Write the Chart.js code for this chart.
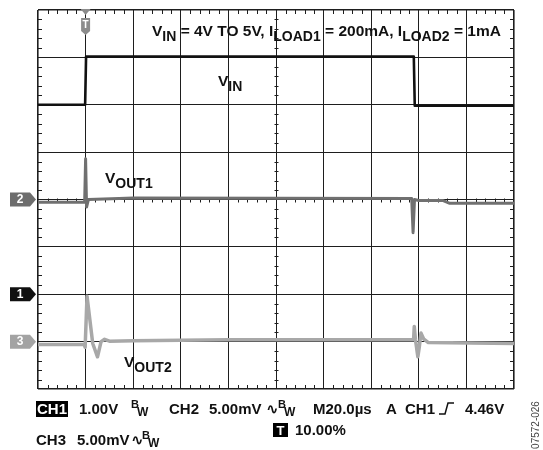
<!DOCTYPE html>
<html lang="en">
<head>
  <meta charset="UTF-8">
  <title>VIN step 4V to 5V — VOUT1 / VOUT2 transient</title>
  <script src="https://cdn.jsdelivr.net/npm/chart.js"></script>
  <style>
    html, body { margin: 0; padding: 0; background: #fff; }
    canvas { display: block; }
  </style>
</head>
<body>
<canvas id="scope" width="543" height="450"></canvas>

<script>
// time base: 20µs/div, trigger (t = 0) sits at 10% of the screen
const vinTime  = [-20, -0.2, 0.2, 60, 137.9, 138.3, 180];
const vinVolts = [4.0, 4.0, 5.02, 5.02, 5.02, 3.98, 3.98];

// CH2, AC coupled, mV deviation
const vout1Time = [-20, -0.4, 0, 0.4, 1.2, 14, 20, 137, 137.6, 138.2, 140, 150, 153, 180];
const vout1mV   = [-0.3, -0.3, 4.3, -0.8, 0.0, 0.1, 0.15, 0.1, -3.5, 0.0, -0.1, -0.1, -0.4, -0.4];

// CH3, AC coupled, mV deviation
const vout2Time = [-20, -0.6, -0.2, 0.6, 3, 5, 6.5, 8, 10, 20, 60, 137.8, 138.1, 138.6, 139.6, 140.2, 140.9, 142, 144, 180];
const vout2mV   = [-0.3, -0.3, -0.6, 4.8, -0.2, -1.6, 0, 0.25, 0.05, 0.1, 0.2, 0.2, 1.6, 0.2, -1.6, -0.6, 0.9, 0.3, -0.1, -0.2];

// channel settings: volts (or mV) per division and ground marker position in divisions
const ch1 = { perDiv: 1, offset: -2 };
const ch2 = { perDiv: 5, offset: 0 };
const ch3 = { perDiv: 5, offset: -3 };

const FONT = '"Liberation Sans", Arial, "DejaVu Sans", sans-serif';
const GRID = '#1e1e1e';

function toDiv(times, vals, ch) {
  return times.map((t, i) => ({ x: t, y: vals[i] / ch.perDiv + ch.offset }));
}

function rich(ctx, x, y, parts) {
  let cx = x;
  parts.forEach(p => {
    ctx.font = p.f;
    ctx.fillText(p.t, cx, y + (p.dy || 0));
    cx += ctx.measureText(p.t).width + (p.gap || 0);
  });
  return cx;
}

const scopeDecor = {
  id: 'scopeDecor',
  beforeDatasetsDraw(chart) {
    const { ctx, chartArea: a, scales: { x, y } } = chart;
    const xc = Math.round(x.getPixelForValue(80)) + 0.5;
    const yc = Math.round(y.getPixelForValue(0)) + 0.5;
    ctx.save();
    ctx.strokeStyle = GRID;
    ctx.lineWidth = 1;
    ctx.beginPath();
    for (let k = 1; k < 50; k++) {
      if (k % 5 === 0) continue;
      const px = Math.round(x.getPixelForValue(-20 + 4 * k)) + 0.5;
      ctx.moveTo(px, a.top); ctx.lineTo(px, a.top + 4);
      ctx.moveTo(px, a.bottom - 4); ctx.lineTo(px, a.bottom);
      ctx.moveTo(px, yc - 2); ctx.lineTo(px, yc + 2);
    }
    for (let k = 1; k < 40; k++) {
      if (k % 5 === 0) continue;
      const py = Math.round(y.getPixelForValue(-4 + 0.2 * k)) + 0.5;
      ctx.moveTo(a.left, py); ctx.lineTo(a.left + 4, py);
      ctx.moveTo(a.right - 4, py); ctx.lineTo(a.right, py);
      ctx.moveTo(xc - 2, py); ctx.lineTo(xc + 2, py);
    }
    ctx.stroke();
    ctx.restore();
  },
  afterDatasetsDraw(chart) {
    const { ctx, chartArea: a, scales: { x, y } } = chart;
    ctx.save();

    // channel ground markers
    const marker = (ch, label, color) => {
      const py = y.getPixelForValue(ch.offset);
      ctx.fillStyle = color;
      ctx.beginPath();
      ctx.moveTo(10, py - 7); ctx.lineTo(30, py - 7); ctx.lineTo(36, py);
      ctx.lineTo(30, py + 7); ctx.lineTo(10, py + 7); ctx.closePath();
      ctx.fill();
      ctx.fillStyle = '#fff';
      ctx.font = 'bold 12px ' + FONT;
      ctx.textAlign = 'center'; ctx.textBaseline = 'middle';
      ctx.fillText(label, 20, py + 0.5);
    };
    marker(ch2, '2', '#6d6d6d');
    marker(ch1, '1', '#111');
    marker(ch3, '3', '#a3a3a3');

    // trigger position marker
    const tx = x.getPixelForValue(0);
    ctx.fillStyle = '#8c8c8c';
    ctx.beginPath();
    ctx.moveTo(tx - 5, a.top - 1); ctx.lineTo(tx + 5, a.top - 1); ctx.lineTo(tx, a.top + 5);
    ctx.closePath(); ctx.fill();
    ctx.beginPath();
    ctx.moveTo(tx - 4.5, a.top + 8); ctx.lineTo(tx + 4.5, a.top + 8); ctx.lineTo(tx + 4.5, a.top + 21);
    ctx.lineTo(tx, a.top + 25); ctx.lineTo(tx - 4.5, a.top + 21); ctx.closePath(); ctx.fill();
    ctx.fillStyle = '#fff';
    ctx.font = 'bold 10px ' + FONT;
    ctx.textAlign = 'center'; ctx.textBaseline = 'middle';
    ctx.fillText('T', tx, a.top + 15);

    // annotations
    const M = 'bold 15.5px ' + FONT, S = 'bold 14px ' + FONT;
    ctx.fillStyle = '#111';
    ctx.textAlign = 'left'; ctx.textBaseline = 'alphabetic';
    rich(ctx, 152, 36, [
      { t: 'V', f: M }, { t: 'IN', f: S, dy: 4.5 },
      { t: ' = 4V TO 5V, I', f: M }, { t: 'LOAD1', f: S, dy: 4.5 },
      { t: ' = 200mA, I', f: M }, { t: 'LOAD2', f: S, dy: 4.5 },
      { t: ' = 1mA', f: M }
    ]);
    rich(ctx, 218, 86, [{ t: 'V', f: M }, { t: 'IN', f: S, dy: 4.5 }]);
    rich(ctx, 105, 183, [{ t: 'V', f: M }, { t: 'OUT1', f: S, dy: 4.5 }]);
    rich(ctx, 124, 367, [{ t: 'V', f: M }, { t: 'OUT2', f: S, dy: 4.5 }]);

    // status line
    const B = 'bold 15px ' + FONT, sup = 'bold 11px ' + FONT, sub = 'bold 12px ' + FONT;
    ctx.fillStyle = '#000';
    ctx.fillRect(36, 401, 32, 16);
    ctx.fillStyle = '#fff'; ctx.font = B;
    ctx.fillText('CH1', 37, 414);
    ctx.fillStyle = '#111';
    const bw = (bx, by) => {
      ctx.font = sup; ctx.fillText('B', bx, by - 6);
      ctx.font = sub; ctx.fillText('W', bx + 6, by + 2);
    };
    ctx.font = B;
    ctx.fillText('1.00V', 79, 414);
    bw(131, 414);
    ctx.font = B;
    ctx.fillText('CH2', 169, 414);
    ctx.fillText('5.00mV', 209, 414);
    ctx.fillText('\u223F', 266, 414);
    bw(278, 414);
    ctx.font = B;
    ctx.fillText('M20.0\u00B5s', 313, 414);
    ctx.fillText('A', 386, 414);
    ctx.fillText('CH1', 405, 414);
    ctx.strokeStyle = '#111'; ctx.lineWidth = 1.5;
    ctx.beginPath();
    ctx.moveTo(439, 414); ctx.lineTo(445, 414); ctx.lineTo(448, 403); ctx.lineTo(454, 403);
    ctx.stroke();
    ctx.fillText('4.46V', 465, 414);

    ctx.fillText('CH3', 36, 445);
    ctx.fillText('5.00mV', 77, 445);
    ctx.fillText('\u223F', 131, 445);
    bw(142, 445);
    ctx.fillStyle = '#000';
    ctx.fillRect(273, 423, 15, 14);
    ctx.fillStyle = '#fff'; ctx.font = 'bold 13px ' + FONT;
    ctx.textAlign = 'center';
    ctx.fillText('T', 280.5, 435);
    ctx.textAlign = 'left';
    ctx.fillStyle = '#111'; ctx.font = B;
    ctx.fillText('10.00%', 295, 435);

    // figure code
    ctx.translate(536, 425);
    ctx.rotate(-Math.PI / 2);
    ctx.fillStyle = '#444';
    ctx.font = '10px ' + FONT;
    ctx.textAlign = 'center'; ctx.textBaseline = 'middle';
    ctx.fillText('07572-026', 0, 0);
    ctx.restore();
  }
};

const edgeWidth = c => (c.tick && (c.tick.value === c.scale.min || c.tick.value === c.scale.max)) ? 1.6 : 1;

new Chart(document.getElementById('scope'), {
  type: 'line',
  data: {
    datasets: [
      { label: 'VOUT2', data: toDiv(vout2Time, vout2mV, ch3), borderColor: '#a8a8a8', borderWidth: 3.5 },
      { label: 'VOUT1', data: toDiv(vout1Time, vout1mV, ch2), borderColor: '#707070', borderWidth: 3 },
      { label: 'VIN', data: toDiv(vinTime, vinVolts, ch1), borderColor: '#111', borderWidth: 2.6 }
    ].map(d => Object.assign(d, { pointRadius: 0, tension: 0, fill: false, borderJoinStyle: 'round' }))
  },
  options: {
    responsive: false,
    animation: false,
    layout: { padding: { left: 38, right: 29, top: 10, bottom: 61 } },
    plugins: { legend: { display: false }, tooltip: { enabled: false } },
    scales: {
      x: {
        type: 'linear', min: -20, max: 180,
        ticks: { stepSize: 20, display: false },
        grid: { color: GRID, lineWidth: edgeWidth, drawTicks: false },
        border: { display: false }
      },
      y: {
        type: 'linear', min: -4, max: 4,
        ticks: { stepSize: 1, display: false },
        grid: { color: GRID, lineWidth: edgeWidth, drawTicks: false },
        border: { display: false }
      }
    }
  },
  plugins: [scopeDecor]
});
</script>
</body>
</html>
